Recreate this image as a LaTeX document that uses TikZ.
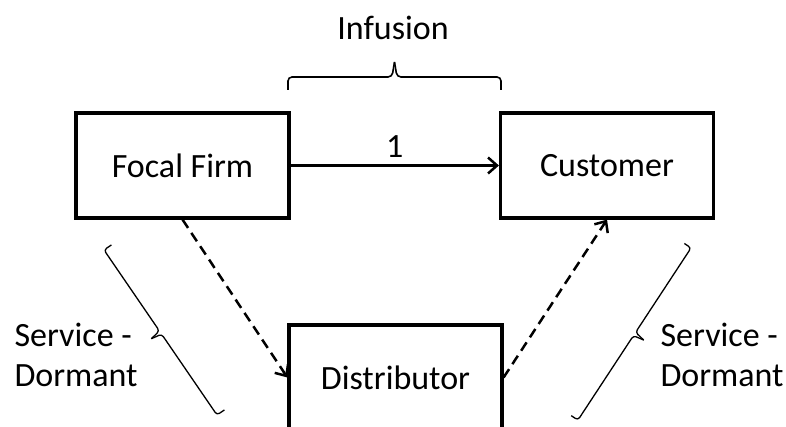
\documentclass[tikz,border=0pt]{standalone}
\usepackage{fontspec}
\setmainfont{Carlito}
\usetikzlibrary{arrows.meta}

\begin{document}
\begin{tikzpicture}[x=1pt, y=-1pt]
		\useasboundingbox (0,0) rectangle (786,427);
		\clip (0,0) rectangle (786,427);
		\begin{scope}[every node/.style={draw, line width=3.2pt, minimum width=213pt, minimum height=105pt, inner sep=0, font=\fontsize{34}{40}\selectfont}]
		\node (firm) at (182.5,165.5) {Focal Firm};
		\node (cust) at (607,165.5) {Customer};
		\node (dist) at (395.5,377.5) {Distributor};
		\end{scope}
		
		\begin{scope}[every node/.style={font=\fontsize{34}{40}\selectfont, align=left}]
		\node (inf) at (393,28) {Infusion};
		\node[anchor=west] (sdl) at (11,355) {Service -\\Dormant};
		\node[anchor=west] (sdr) at (657,355) {Service -\\Dormant};
		\end{scope}
		
		\draw[-{Straight Barb[length=9pt, width=16pt]}, line width=2.5pt] (firm) -- node[above=3pt, font=\fontsize{34}{40}\selectfont] (one) {1} (cust);
		\draw[-{Straight Barb[length=9pt, width=16pt]}, line width=2.5pt, dash pattern=on 10pt off 6pt] (firm.south) -- (dist.west);
		\draw[-{Straight Barb[length=9pt, width=16pt]}, line width=2.5pt, dash pattern=on 10pt off 6pt] (dist.east) -- (cust.south);
		
		% braces
		\draw[line width=1.6pt, rounded corners=4pt] (288,90) -- (288,77) -- (392,77) -- (394.5,62);
		\draw[line width=1.6pt, rounded corners=4pt] (501,90) -- (501,77) -- (397,77) -- (394.5,62);
		\begin{scope}[shift={(160.5,332.5)}, rotate=-55.6, line width=1.3pt, rounded corners=3pt]
		\draw (-100,-9) -- (-100,0) -- (-2,0) -- (0,11);
		\draw (100,-9) -- (100,0) -- (2,0) -- (0,11);
		\end{scope}
		\begin{scope}[shift={(634.5,334)}, rotate=-123.3, line width=1.3pt, rounded corners=3pt]
		\draw (-103,8) -- (-103,0) -- (-2,0) -- (0,-11);
		\draw (103,8) -- (103,0) -- (2,0) -- (0,-11);
		\end{scope}
		\end{tikzpicture}
\end{document}
